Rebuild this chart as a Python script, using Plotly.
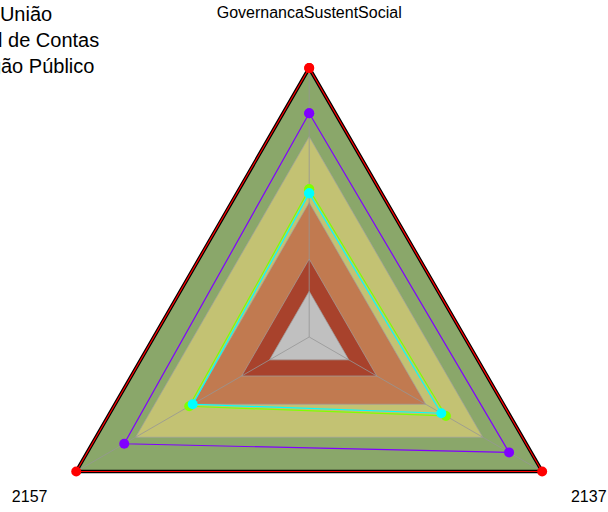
import numpy as np
import plotly.graph_objects as go

# eixos do radar (1o no topo, depois sentido anti-horario)
categories = ["GovernancaSustentSocial", "2157", "2137"]

# faixas de fundo (fracao do maximo)
band_levels = [1.0, 0.745, 0.5, 0.29, 0.17]
band_colors = ["#8aa76a", "#c3c273", "#c17a50", "#a8422c", "#c0c0c0"]

# series (mesma ordem das categorias)
serie_max = [1.0, 1.0, 1.0]
serie_verde = [0.549, 0.515, 0.587]
serie_ciano = [0.534, 0.500, 0.567]
serie_roxa = [0.832, 0.794, 0.858]
series = [serie_max, serie_verde, serie_ciano, serie_roxa]
series_colors = ["#ff0000", "#80ff00", "#00ffff", "#8000ff"]

title_lines = ["Esfera: União", "Tribunal de Contas", "Um Órgão Público"]

angles = np.deg2rad(90 + 120 * np.arange(len(categories)))


def to_xy(values):
    v = np.append(values, values[0])
    a = np.append(angles, angles[0])
    return v * np.cos(a), v * np.sin(a)


fig = go.Figure()

# faixas coloridas
for lvl, col in zip(band_levels, band_colors):
    x, y = to_xy([lvl] * len(categories))
    fig.add_trace(go.Scatter(x=x, y=y, mode="lines", fill="toself", fillcolor=col,
                             line=dict(color="rgba(160,160,160,0.7)", width=1),
                             hoverinfo="skip"))

# raios
sx, sy = [], []
for a in angles:
    sx += [0, np.cos(a), None]
    sy += [0, np.sin(a), None]
fig.add_trace(go.Scatter(x=sx, y=sy, mode="lines",
                         line=dict(color="rgba(150,150,150,0.8)", width=1), hoverinfo="skip"))

# moldura externa
x, y = to_xy([max(band_levels)] * len(categories))
fig.add_trace(go.Scatter(x=x, y=y, mode="lines", line=dict(color="black", width=3.5),
                         hoverinfo="skip"))

for vals, col in zip(series, series_colors):
    x, y = to_xy(vals)
    fig.add_trace(go.Scatter(x=x, y=y, mode="lines+markers",
                             line=dict(color=col, width=1.2),
                             marker=dict(color=col, size=10)))

# rotulos dos eixos
lab_r = 1.2
fig.add_trace(go.Scatter(x=lab_r * np.cos(angles), y=lab_r * np.sin(angles),
                         mode="text", text=categories,
                         textfont=dict(size=16, color="black"), hoverinfo="skip"))

fig.add_annotation(text="<br>".join(title_lines), xref="paper", yref="paper",
                   x=-71 / 608, y=1 - 1 / 512, xanchor="left", yanchor="top",
                   align="left", showarrow=False, font=dict(size=20, color="black"))

fig.update_layout(
    width=608, height=512,
    margin=dict(l=0, r=0, t=0, b=0),
    paper_bgcolor="white", plot_bgcolor="white",
    showlegend=False,
    font=dict(family="Arial, Liberation Sans, sans-serif"),
    xaxis=dict(range=[-1.1494, 1.1108], visible=False, fixedrange=True),
    yaxis=dict(range=[-0.6506, 1.2528], visible=False, fixedrange=True),
)

# sem margem do body, pra figura ocupar a janela toda
fig.write_html("out.html", config={"displayModeBar": False},
               post_script="document.body.style.margin='0';")
